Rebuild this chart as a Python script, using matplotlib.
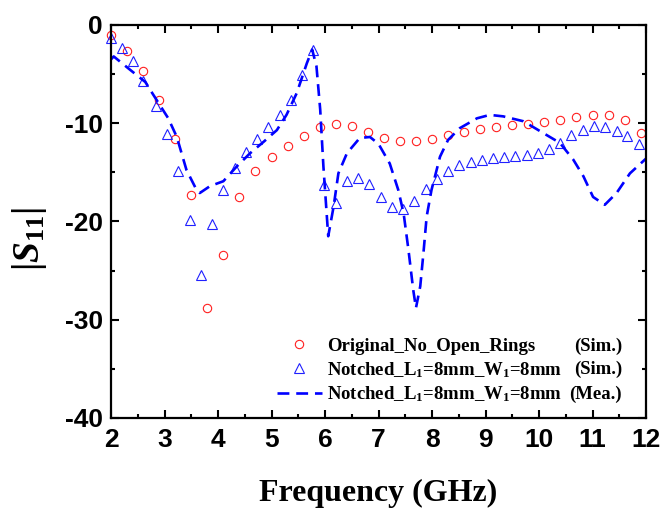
import matplotlib
matplotlib.use('Agg')
from matplotlib import pyplot as plt

plt.rcParams['mathtext.fontset'] = 'custom'
plt.rcParams['mathtext.rm'] = 'Liberation Serif:bold'
plt.rcParams['mathtext.it'] = 'Liberation Serif:italic:bold'
plt.rcParams['mathtext.bf'] = 'Liberation Serif:bold'
plt.rcParams['axes.unicode_minus'] = False

# Original_No_Open_Rings (Sim.)
orig_f = [2.0, 2.3, 2.6, 2.9, 3.2, 3.5, 3.8, 4.1, 4.4, 4.7, 5.0, 5.3, 5.6, 5.9,
          6.2, 6.5, 6.8, 7.1, 7.4, 7.7, 8.0, 8.3, 8.6, 8.9, 9.2, 9.5, 9.8,
          10.1, 10.4, 10.7, 11.0, 11.3, 11.6, 11.9]
orig_s = [-1.0, -2.6, -4.7, -7.6, -11.6, -17.3, -28.8, -23.4, -17.5, -14.85,
          -13.4, -12.3, -11.3, -10.4, -10.1, -10.3, -10.9, -11.5, -11.8, -11.8,
          -11.6, -11.2, -10.9, -10.55, -10.4, -10.2, -10.1, -9.9, -9.7, -9.4,
          -9.2, -9.2, -9.7, -10.95]

# Notched (Sim.)
sim_f = [2.0, 2.21, 2.42, 2.60, 2.84, 3.05, 3.26, 3.47, 3.68, 3.89, 4.09, 4.32,
         4.52, 4.72, 4.94, 5.15, 5.36, 5.57, 5.78, 5.99, 6.20, 6.41, 6.62, 6.82,
         7.05, 7.25, 7.46, 7.66, 7.88, 8.09, 8.30, 8.50, 8.72, 8.93, 9.14, 9.35,
         9.56, 9.77, 9.98, 10.19, 10.40, 10.60, 10.82, 11.03, 11.23, 11.45,
         11.65, 11.86]
sim_s = [-1.3, -2.3, -3.7, -5.7, -8.2, -11.1, -14.85, -19.8, -25.4, -20.3, -16.8,
         -14.6, -12.95, -11.6, -10.4, -9.2, -7.6, -5.1, -2.5, -16.3, -18.1, -15.9,
         -15.6, -16.2, -17.5, -18.5, -18.7, -17.9, -16.7, -15.7, -14.9, -14.2,
         -13.9, -13.7, -13.5, -13.4, -13.3, -13.2, -13.05, -12.6, -12.0, -11.2,
         -10.7, -10.3, -10.4, -10.75, -11.3, -12.1]

# Notched (Mea.)
mea_f = [2.00, 2.05, 2.32, 2.64, 2.79, 3.07, 3.23, 3.41, 3.60, 3.66, 3.85, 4.10,
         4.35, 4.60, 4.85, 5.10, 5.28, 5.47, 5.66, 5.76, 5.84, 5.91, 5.97, 6.06,
         6.16, 6.25, 6.41, 6.65, 6.84, 7.00, 7.21, 7.37, 7.47, 7.56, 7.65, 7.70,
         7.78, 7.84, 7.90, 7.99, 8.15, 8.30, 8.52, 8.84, 9.08, 9.33, 9.71, 10.08,
         10.39, 10.64, 10.83, 11.01, 11.23, 11.45, 11.70, 12.00]
mea_s = [-3.5, -3.2, -4.4, -5.8, -7.1, -9.5, -11.4, -14.75, -16.8, -17.1, -16.4,
         -15.9, -14.4, -13.05, -11.9, -10.7, -9.15, -6.95, -3.9, -2.5, -4.2, -8.6,
         -14.4, -21.5, -18.5, -15.1, -13.05, -11.5, -11.4, -12.1, -14.1, -16.8,
         -19.2, -22.9, -27.0, -28.8, -26.6, -23.2, -19.5, -16.8, -13.4, -11.7,
         -10.5, -9.5, -9.15, -9.3, -9.8, -11.0, -12.0, -13.7, -15.4, -17.5, -18.3,
         -17.1, -15.1, -13.6]

labels = ['Original_No_Open_Rings', 'Notched_L$_1$=8mm_W$_1$=8mm',
          'Notched_L$_1$=8mm_W$_1$=8mm']
suffixes = ['(Sim.)', '(Sim.)', '(Mea.)']

fig = plt.figure(figsize=(6.64, 5.12), dpi=100)
ax = fig.add_axes([0.1672, 0.1836, 0.8057, 0.7676])

ax.plot(orig_f, orig_s, 'o', mfc='none', mec='#ff2020', ms=6, mew=0.8,
        label=labels[0], clip_on=False)
ax.plot(sim_f, sim_s, '^', mfc='none', mec='#2020ff', ms=7.5, mew=0.8,
        label=labels[1], clip_on=False)
ax.plot(mea_f, mea_s, '--', color='#0000ff', lw=1.9, dashes=(4.5, 2.6),
        label=labels[2])

ax.set_xlim(2, 12)
ax.set_ylim(-40, 0)
ax.set_xticks(range(2, 13))
ax.set_yticks([-40, -30, -20, -10, 0])
ax.set_xticks([2.5 + i for i in range(10)], minor=True)
ax.set_yticks([-35, -25, -15, -5], minor=True)

for s in ax.spines.values():
    s.set_linewidth(1.6)
ax.tick_params(which='both', direction='in', top=True, right=True, width=1.5)
ax.tick_params(which='major', length=6)
ax.tick_params(which='minor', length=3)
ax.tick_params(axis='x', pad=7)
ax.tick_params(axis='y', pad=6)
for t in ax.get_xticklabels() + ax.get_yticklabels():
    t.set_fontfamily('Liberation Sans')
    t.set_fontweight('bold')
    t.set_fontsize(19)

ax.set_xlabel('Frequency (GHz)', family='Liberation Serif', weight='bold',
              fontsize=23)
ax.xaxis.set_label_coords(0.5, -0.155)
ax.set_ylabel(r'$|S_{11}|$', fontsize=27)
ax.yaxis.set_label_coords(-0.115, 0.455)

leg = ax.legend(loc='upper left', bbox_to_anchor=(0.31, 0.205), frameon=False,
                prop={'family': 'Liberation Serif', 'weight': 'bold',
                      'size': 13.5},
                handlelength=2.4, handletextpad=0.3, labelspacing=0.28,
                borderpad=0, borderaxespad=0)

# second legend column: (Sim.) / (Mea.), right aligned, on each legend row
fig.canvas.draw()
inv = ax.transAxes.inverted()
for txt, suf in zip(leg.get_texts(), suffixes):
    bb = txt.get_window_extent()
    yc = inv.transform((0, (bb.y0 + bb.y1) / 2))[1]
    ax.text(0.955, yc, suf, transform=ax.transAxes, ha='right', va='center',
            family='Liberation Serif', weight='bold', fontsize=13.5)

fig.savefig('out.png', dpi=100)
